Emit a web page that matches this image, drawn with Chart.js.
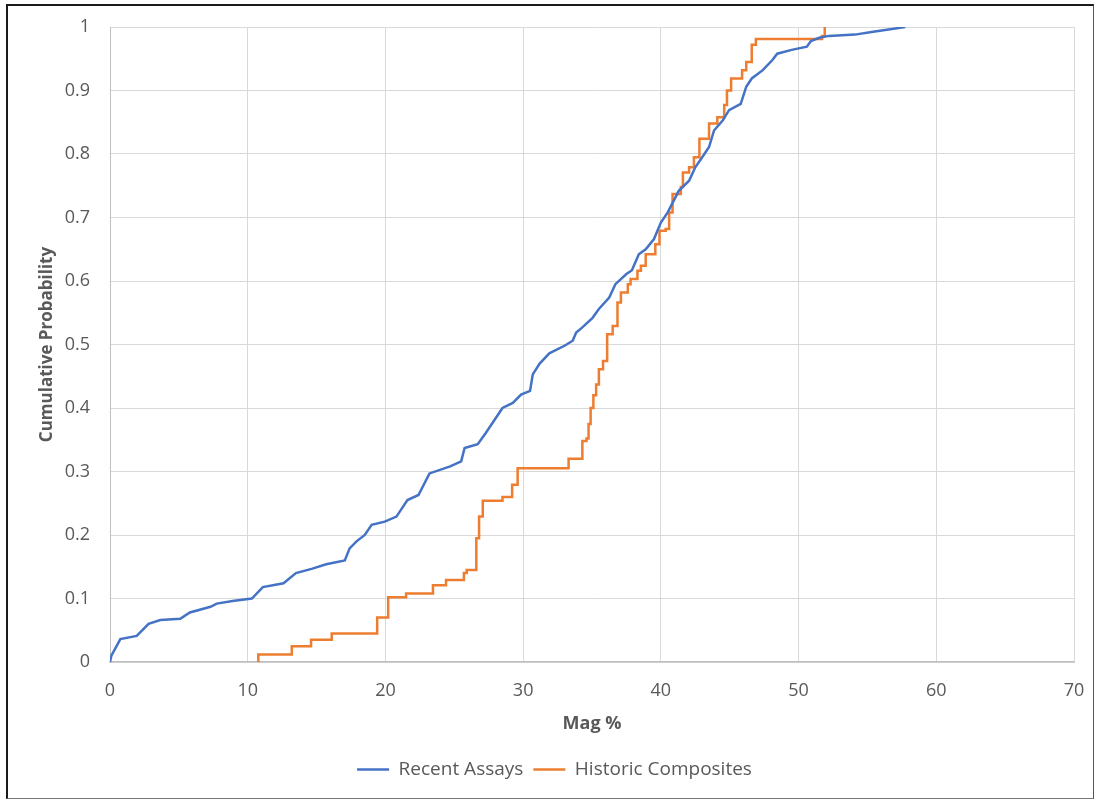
<!DOCTYPE html>
<html>
<head>
<meta charset="utf-8">
<script src="https://cdn.jsdelivr.net/npm/chart.js@4/dist/chart.umd.min.js"></script>
<style>
  html, body { margin: 0; padding: 0; background: #fff; }
  #wrap { position: relative; width: 1096px; height: 801px; }
  #frame { position: absolute; left: 6px; top: 4px; width: 1088px; height: 795px; border: 2px solid #1a1a1a; border-right-width: 1px; border-bottom-width: 1px; border-right-color: #555; border-bottom-color: #777; pointer-events: none; box-sizing: border-box; }
  canvas { position: absolute; left: 0; top: 0; }
</style>
</head>
<body>
<div id="wrap">
  <canvas id="c" width="1096" height="801"></canvas>
  <div id="frame"></div>
</div>
<script>
const seriesNames = ["Recent Assays", "Historic Composites"];
const xTicks = [0, 10, 20, 30, 40, 50, 60, 70];
const yTicks = [0, 0.1, 0.2, 0.3, 0.4, 0.5, 0.6, 0.7, 0.8, 0.9, 1];

const recentMag = [0, 0.1, 0.75, 1.94, 2.8, 3.65, 5.1, 5.8, 7.3, 7.75, 8.9, 10.3, 11.1, 12.6, 13.5, 14.7, 15.7, 17.05, 17.4, 17.9, 18.5, 19.0, 19.95, 20.8, 21.6, 22.4, 23.2, 24.7, 25.5, 25.75, 26.7, 27.3, 28.5, 29.25, 29.85, 30.5, 30.7, 31.2, 31.9, 33.0, 33.6, 33.85, 34.3, 35.04, 35.5, 36.25, 36.7, 37.5, 37.9, 38.4, 38.9, 39.5, 40.0, 40.5, 41.3, 42.05, 42.5, 43.0, 43.5, 43.86, 44.5, 44.95, 45.8, 46.2, 46.6, 47.4, 48.1, 48.45, 49.5, 50.6, 50.9, 51.5, 52.2, 54.1, 55.3, 57.75];
const recentProb = [0, 0.01, 0.036, 0.041, 0.06, 0.066, 0.068, 0.078, 0.087, 0.092, 0.096, 0.1, 0.118, 0.124, 0.14, 0.147, 0.154, 0.16, 0.179, 0.19, 0.2, 0.216, 0.221, 0.229, 0.255, 0.263, 0.297, 0.308, 0.316, 0.337, 0.343, 0.361, 0.4, 0.408, 0.421, 0.427, 0.453, 0.47, 0.486, 0.498, 0.506, 0.519, 0.527, 0.542, 0.556, 0.574, 0.595, 0.611, 0.617, 0.642, 0.65, 0.666, 0.692, 0.708, 0.742, 0.758, 0.779, 0.795, 0.811, 0.837, 0.853, 0.869, 0.879, 0.906, 0.919, 0.932, 0.948, 0.958, 0.964, 0.969, 0.978, 0.983, 0.986, 0.988, 0.992, 1.0];

const historicMag = [10.77, 10.77, 13.2, 14.6, 16.1, 19.4, 20.2, 21.5, 23.45, 24.4, 25.7, 25.9, 26.6, 26.8, 27.07, 28.5, 29.2, 29.6, 33.3, 34.3, 34.6, 34.75, 34.9, 35.1, 35.3, 35.5, 35.8, 36.1, 36.5, 36.85, 37.1, 37.6, 37.8, 38.3, 38.55, 38.9, 39.6, 39.9, 40.35, 40.6, 40.85, 41.45, 41.6, 42.05, 42.4, 42.8, 43.5, 44.1, 44.6, 44.8, 45.1, 45.9, 46.2, 46.6, 46.9, 51.7, 51.9];
const historicProb = [0, 0.012, 0.025, 0.035, 0.045, 0.07, 0.102, 0.108, 0.121, 0.129, 0.14, 0.145, 0.195, 0.229, 0.254, 0.26, 0.279, 0.305, 0.32, 0.348, 0.352, 0.375, 0.4, 0.42, 0.437, 0.461, 0.474, 0.516, 0.529, 0.566, 0.582, 0.595, 0.603, 0.616, 0.624, 0.642, 0.658, 0.679, 0.682, 0.708, 0.737, 0.748, 0.771, 0.779, 0.795, 0.824, 0.848, 0.858, 0.877, 0.9, 0.919, 0.932, 0.945, 0.972, 0.981, 0.986, 1.0];

const seriesColors = ["#4472C4", "#ED7D31"];

function toPoints(xs, ys) { return xs.map((x, i) => ({ x: x, y: ys[i] })); }

const FONT = "'Open Sans', 'DejaVu Sans', sans-serif";
const TXT = "#595959";

new Chart(document.getElementById('c'), {
  type: 'scatter',
  data: {
    datasets: [
      { label: seriesNames[0], data: toPoints(recentMag, recentProb), showLine: true, borderColor: seriesColors[0], backgroundColor: seriesColors[0], borderWidth: 2.5, pointRadius: 0, tension: 0 },
      { label: seriesNames[1], data: toPoints(historicMag, historicProb), showLine: true, stepped: 'before', borderColor: seriesColors[1], backgroundColor: seriesColors[1], borderWidth: 2.5, pointRadius: 0, tension: 0 }
    ]
  },
  options: {
    responsive: false,
    animation: false,
    devicePixelRatio: 1,
    layout: { padding: { left: 35, top: 27, right: 22, bottom: 12 } },
    plugins: {
      legend: {
        position: 'bottom',
        labels: {
          usePointStyle: true, pointStyle: 'line', pointStyleWidth: 32, boxHeight: 19,
          padding: 10, color: TXT, font: { family: FONT, size: 19 },
          generateLabels: (chart) => chart.data.datasets.map((d, i) => ({
            text: d.label, fillStyle: d.borderColor, strokeStyle: d.borderColor, lineWidth: 2.5,
            pointStyle: 'line', datasetIndex: i, hidden: false, fontColor: TXT
          }))
        }
      },
      tooltip: { enabled: false }
    },
    scales: {
      x: {
        type: 'linear', min: 0, max: 70,
        afterBuildTicks: (s) => { s.ticks = xTicks.map(v => ({ value: v })); },
        afterFit: (s) => { s.height = 88; s.paddingLeft = 0; s.paddingRight = 0; },
        grid: { color: '#d9d9d9', drawTicks: false, lineWidth: 1 },
        border: { color: '#bfbfbf', width: 1.5 },
        ticks: { padding: 18, color: TXT, font: { family: FONT, size: 18 } },
        title: { display: true, text: 'Mag %', color: TXT, font: { family: FONT, size: 18, weight: 'bold' }, padding: { top: 4, bottom: 15 } }
      },
      y: {
        type: 'linear', min: 0, max: 1,
        afterBuildTicks: (s) => { s.ticks = yTicks.map(v => ({ value: v })); },
        afterFit: (s) => { s.width = 75; s.paddingTop = 0; s.paddingBottom = 0; },
        grid: { color: '#d9d9d9', drawTicks: false, lineWidth: 1 },
        border: { color: '#bfbfbf', width: 1 },
        ticks: { padding: 20, color: TXT, font: { family: FONT, size: 18 }, callback: (v) => String(v) },
        title: { display: true, text: 'Cumulative Probability', color: TXT, font: { family: FONT, size: 17, weight: 'bold' }, padding: { top: 2, bottom: 4 } }
      }
    }
  }
});
</script>
</body>
</html>
